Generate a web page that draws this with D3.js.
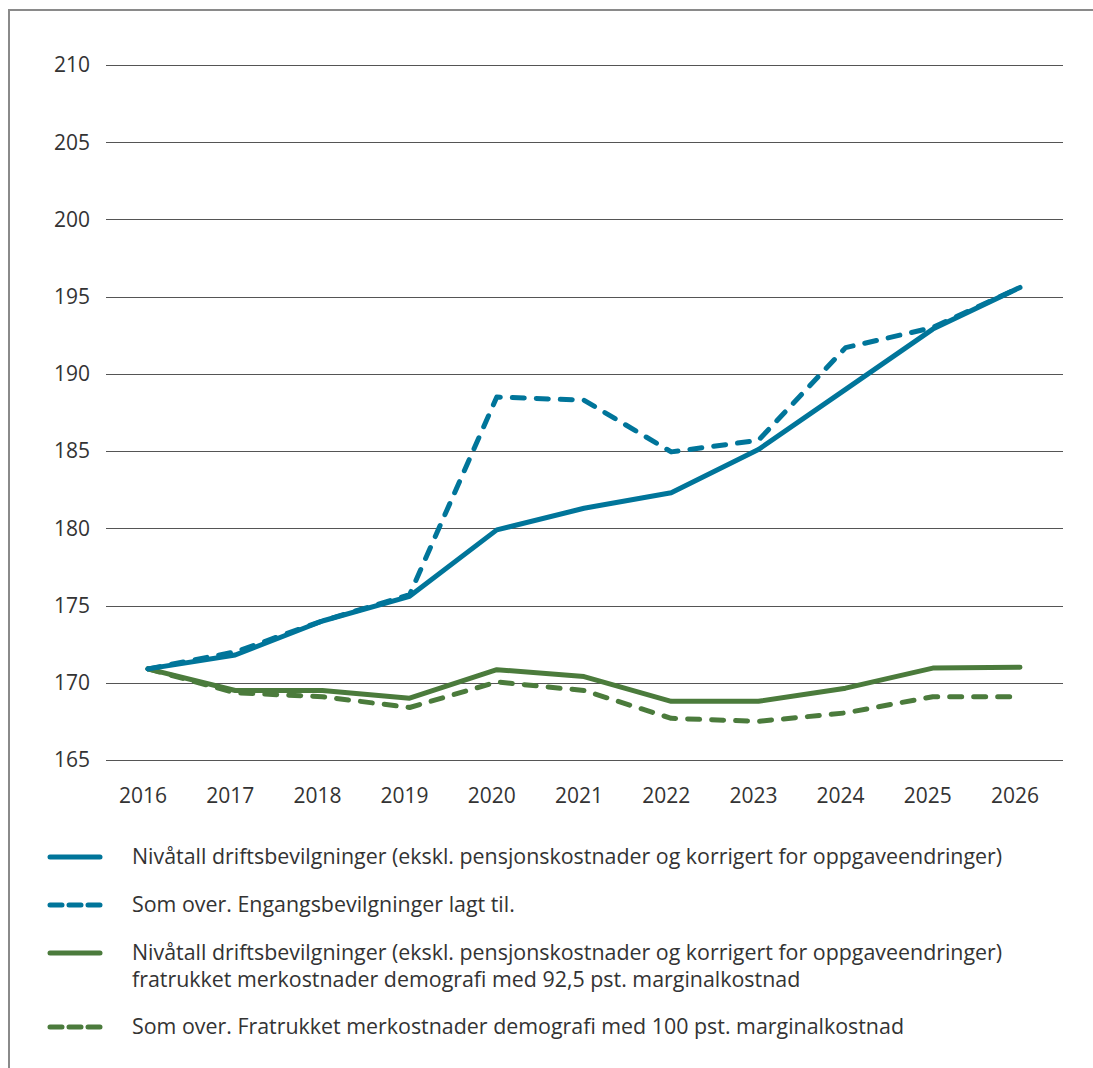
<!DOCTYPE html>
<html><head><meta charset="utf-8">
<script src="https://cdn.jsdelivr.net/npm/d3@7"></script>
<style>body{margin:0;background:#fff}svg{display:block}text{font-family:"Open Sans",sans-serif;fill:#333}</style>
</head><body><svg id="c" width="1093" height="1068"></svg>
<script>
const years = [2016,2017,2018,2019,2020,2021,2022,2023,2024,2025,2026];
const blueSolid = [170.9,171.8,174.0,175.6,179.9,181.3,182.3,185.1,189.0,192.9,195.6];
const blueDash  = [170.9,172.0,174.0,175.7,188.5,188.3,184.95,185.7,191.7,193.0,195.6];
const greenSolid= [170.9,169.5,169.5,169.0,170.85,170.4,168.8,168.8,169.65,170.95,171.0];
const greenDash = [170.9,169.35,169.1,168.4,170.05,169.5,167.7,167.5,168.05,169.1,169.1];
const yTicks = [165,170,175,180,185,190,195,200,205,210];
const legendLabels = [
 ["Nivåtall driftsbevilgninger (ekskl. pensjonskostnader og korrigert for oppgaveendringer)"],
 ["Som over. Engangsbevilgninger lagt til."],
 ["Nivåtall driftsbevilgninger (ekskl. pensjonskostnader og korrigert for oppgaveendringer)","fratrukket merkostnader demografi med 92,5 pst. marginalkostnad"],
 ["Som over. Fratrukket merkostnader demografi med 100 pst. marginalkostnad"]
];
const BLUE="#00759a", GREEN="#4b7b3c";
const series=[
 {v:blueSolid,c:BLUE,d:null},
 {v:blueDash,c:BLUE,d:"12,12"},
 {v:greenSolid,c:GREEN,d:null},
 {v:greenDash,c:GREEN,d:"12,12"}
];
const svg=d3.select("#c");
svg.append("path").attr("d","M9,1068V10H1093").attr("fill","none").attr("stroke","#8a8a8a").attr("stroke-width",2);
const x=d3.scalePoint().domain(years).range([148,1020]);
const y=d3.scaleLinear().domain([165,210]).range([760,65]);
svg.append("g").selectAll("line").data(yTicks).join("line")
 .attr("x1",106).attr("x2",1063).attr("y1",d=>Math.round(y(d))+0.5).attr("y2",d=>Math.round(y(d))+0.5)
 .attr("stroke","#555").attr("stroke-width",1.2);
svg.append("g").selectAll("text").data(yTicks).join("text")
 .attr("x",90).attr("y",d=>y(d)).attr("dy","0.35em").attr("text-anchor","end").attr("font-size",21).text(d=>d);
svg.append("g").selectAll("text").data(years).join("text")
 .attr("x",d=>x(d)-5).attr("y",796).attr("dy","0.35em").attr("text-anchor","middle").attr("font-size",21).text(d=>d);
const line=d3.line().x((d,i)=>x(years[i])).y(d=>y(d));
const order=[3,2,1,0];
order.forEach(k=>{const s=series[k];
 svg.append("path").attr("d",line(s.v)).attr("fill","none").attr("stroke",s.c).attr("stroke-width",5)
 .attr("stroke-linecap","round").attr("stroke-linejoin","round").attr("stroke-dasharray",s.d);
});
const ly=[857,905,953,1027];
series.forEach((s,i)=>{
 svg.append("line").attr("x1",50).attr("x2",100).attr("y1",ly[i]).attr("y2",ly[i]).attr("stroke",s.c).attr("stroke-width",5)
  .attr("stroke-linecap","round").attr("stroke-dasharray",s.d?"12,7":null);
 legendLabels[i].forEach((t,j)=>svg.append("text").attr("x",132).attr("y",ly[i]+j*27).attr("dy","0.35em").attr("font-size",21.4).text(t));
});
</script></body></html>
